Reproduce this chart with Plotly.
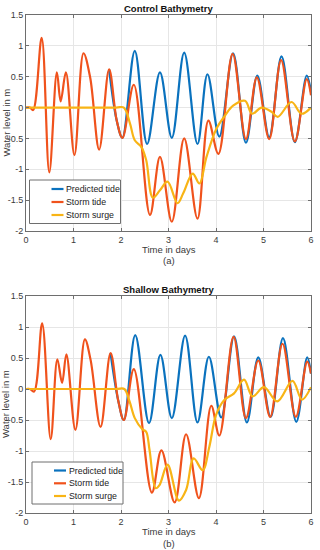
import plotly.graph_objects as go

# ---------------- data ----------------
series_names = ["Predicted tide", "Storm tide", "Storm surge"]

# (a) Control Bathymetry
ctrl_tide_x = [1.75, 1.91, 2.03, 2.29, 2.55, 2.82, 3.07, 3.33, 3.61, 3.82, 4.07, 4.36, 4.63, 4.87, 5.12, 5.38, 5.66, 5.91, 6.0]
ctrl_tide_y = [0.62, -0.21, -0.49, 0.92, -0.59, 0.57, -0.49, 0.89, -0.59, 0.54, -0.47, 0.88, -0.57, 0.52, -0.48, 0.83, -0.56, 0.52, 0.25]

ctrl_storm_x = [0, 0.08, 0.15, 0.33, 0.49, 0.65, 0.73, 0.84, 1.02, 1.21, 1.35, 1.54, 1.75, 1.91, 2.03, 2.27, 2.61, 2.82, 3.07,
                3.33, 3.61, 3.84, 4.05, 4.35, 4.63, 4.86, 5.12, 5.37, 5.66, 5.91, 6.0]
ctrl_storm_y = [0, 0, -0.04, 1.13, -1.05, 0.57, 0.10, 0.57, -0.77, 0.88, 0.49, -0.68, 0.62, -0.21, -0.49, 0.37, -1.74, -0.80, -1.85,
                -0.50, -1.80, -0.21, -0.75, 0.87, -0.51, 0.49, -0.51, 0.77, -0.55, 0.46, 0.20]

ctrl_surge_x = [0, 1.9, 2.06, 2.19, 2.29, 2.43, 2.53, 2.67, 2.82, 2.98, 3.19, 3.31, 3.51, 3.65, 3.80, 4.01, 4.19, 4.36, 4.61,
                4.76, 4.96, 5.17, 5.30, 5.59, 5.80, 6.0]
ctrl_surge_y = [0, 0, 0, -0.26, -0.53, -0.64, -0.85, -1.46, -1.34, -1.20, -1.55, -1.39, -1.07, -1.23, -0.80, -0.34, -0.13, 0.03, 0.11,
                -0.10, 0.0, -0.07, -0.15, 0.09, -0.10, 0.0]

# (b) Shallow Bathymetry
shal_tide_x = [1.78, 1.94, 2.06, 2.30, 2.59, 2.83, 3.07, 3.35, 3.61, 3.85, 4.11, 4.38, 4.65, 4.89, 5.15, 5.41, 5.69, 5.92, 6.0]
shal_tide_y = [0.58, -0.18, -0.50, 0.87, -0.55, 0.55, -0.47, 0.86, -0.54, 0.52, -0.46, 0.85, -0.54, 0.51, -0.45, 0.82, -0.53, 0.51, 0.25]

shal_storm_x = [0, 0.08, 0.17, 0.34, 0.52, 0.66, 0.76, 0.85, 1.04, 1.24, 1.36, 1.57, 1.78, 1.94, 2.06, 2.27, 2.65, 2.85, 3.13,
                3.37, 3.64, 3.90, 4.07, 4.37, 4.63, 4.89, 5.14, 5.40, 5.68, 5.92, 6.0]
shal_storm_y = [0, 0, -0.04, 1.06, -0.81, 0.48, 0.10, 0.56, -0.66, 0.80, 0.47, -0.61, 0.58, -0.18, -0.50, 0.32, -1.67, -0.99, -1.83,
                -0.73, -1.76, -0.27, -0.75, 0.84, -0.47, 0.46, -0.45, 0.73, -0.45, 0.44, 0.25]

shal_surge_x = [0, 1.9, 2.07, 2.18, 2.29, 2.45, 2.53, 2.60, 2.73, 2.81, 2.98, 3.22, 3.37, 3.53, 3.72, 3.86, 4.00, 4.17, 4.38,
                4.59, 4.77, 5.01, 5.29, 5.61, 5.81, 6.0]
shal_surge_y = [0, 0, 0, -0.20, -0.47, -0.65, -0.69, -0.98, -1.60, -1.55, -1.22, -1.80, -1.63, -1.12, -1.31, -0.93, -0.42, -0.18, -0.07,
                0.15, -0.12, 0.03, -0.20, 0.13, -0.17, 0.03]

x_tick_vals = [0, 1, 2, 3, 4, 5, 6]
x_tick_text = ["0", "1", "2", "3", "4", "5", "6"]
y_tick_vals = [-2, -1.5, -1, -0.5, 0, 0.5, 1, 1.5]
y_tick_text = ["-2", "-1.5", "-1", "-0.5", "0", "0.5", "1", "1.5"]

titles = ["Control Bathymetry", "Shallow Bathymetry"]
x_label = "Time in days"
y_label = "Water level in m"
panel_labels = ["(a)", "(b)"]

# ---------------- style ----------------
colors = ["#0A72BE", "#F0521C", "#F8B415"]
FONT = "Arial, 'Liberation Sans', Helvetica, sans-serif"
W, H = 320, 550
ML, MR, MT, MB = 26, 9, 15, 37
PH = H - MT - MB  # plot height in px
PW = W - ML - MR
AXC = "#6E6E6E"


def py2paper(py):
    return (H - MB - py) / PH


def px2paper(px):
    return (px - ML) / PW


fig = go.Figure()

panels = [
    (ctrl_tide_x, ctrl_tide_y, ctrl_storm_x, ctrl_storm_y, ctrl_surge_x, ctrl_surge_y, "x", "y"),
    (shal_tide_x, shal_tide_y, shal_storm_x, shal_storm_y, shal_surge_x, shal_surge_y, "x2", "y2"),
]
for (tx, ty, sx, sy, ux, uy, xa, ya) in panels:
    for name, xs, ys, col in zip(series_names, [tx, sx, ux], [ty, sy, uy], colors):
        fig.add_trace(go.Scatter(
            x=xs, y=ys, mode="lines", name=name, xaxis=xa, yaxis=ya, showlegend=False,
            line=dict(color=col, width=2.2, shape="spline", smoothing=1.0),
            hoverinfo="skip",
        ))

axis_common = dict(
    showgrid=True, gridcolor="#E6E6E6", gridwidth=1,
    showline=True, linecolor=AXC, linewidth=1, mirror="ticks",
    ticks="inside", ticklen=3, tickcolor=AXC,
    tickfont=dict(family=FONT, size=9, color="#3A3A3A"),
    zeroline=False, automargin=False,
)

top_dom = [py2paper(231), py2paper(15)]
bot_dom = [py2paper(513), py2paper(296)]

xa = dict(axis_common, range=[0, 6], tickvals=x_tick_vals, ticktext=x_tick_text)
ya = dict(axis_common, range=[-2, 1.5], tickvals=y_tick_vals, ticktext=y_tick_text)

fig.update_layout(
    width=W, height=H,
    margin=dict(l=ML, r=MR, t=MT, b=MB, pad=0, autoexpand=False),
    paper_bgcolor="white", plot_bgcolor="white",
    xaxis=dict(xa, domain=[0, 1], anchor="y"),
    yaxis=dict(ya, domain=top_dom, anchor="x"),
    xaxis2=dict(xa, domain=[0, 1], anchor="y2"),
    yaxis2=dict(ya, domain=bot_dom, anchor="x2"),
    showlegend=False,
)

ann = []
shapes = []
TXT = dict(family=FONT, size=9.5, color="#3A3A3A")
# titles
for t, cy in [(titles[0], 8), (titles[1], 289)]:
    ann.append(dict(text="<b>" + t + "</b>", x=0.5, y=py2paper(cy), xref="paper", yref="paper",
                    showarrow=False, font=dict(family=FONT, size=9.5, color="#111"),
                    xanchor="center", yanchor="middle"))
# x labels and panel labels
for ylab_px, ypanel_px, plab in [(249.5, 260.5, panel_labels[0]), (531.5, 543.5, panel_labels[1])]:
    ann.append(dict(text=x_label, x=0.5, y=py2paper(ylab_px), xref="paper", yref="paper",
                    showarrow=False, font=TXT, xanchor="center", yanchor="middle"))
    ann.append(dict(text=plab, x=0.5, y=py2paper(ypanel_px), xref="paper", yref="paper",
                    showarrow=False, font=TXT, xanchor="center", yanchor="middle"))
# y labels
for cy in [(15 + 231) / 2, (296 + 513) / 2]:
    ann.append(dict(text=y_label, x=px2paper(5.5), y=py2paper(cy), xref="paper", yref="paper",
                    showarrow=False, textangle=-90, font=TXT, xanchor="center", yanchor="middle"))

# legends (box, line samples, labels) for each panel
for (bx, btop, bbot, rows) in [(29.5, 180, 223.5, [189, 202, 215]),
                               (32, 462, 504, [470.5, 483.3, 496])]:
    shapes.append(dict(type="rect", xref="paper", yref="paper",
                       x0=px2paper(bx), x1=px2paper(bx + 91), y0=py2paper(bbot), y1=py2paper(btop),
                       fillcolor="white", line=dict(color=AXC, width=1), layer="above"))
    for name, col, ry in zip(series_names, colors, rows):
        shapes.append(dict(type="line", xref="paper", yref="paper",
                           x0=px2paper(bx + 22), x1=px2paper(bx + 34), y0=py2paper(ry), y1=py2paper(ry),
                           line=dict(color=col, width=2.2), layer="above"))
        ann.append(dict(text=name, x=px2paper(bx + 34.5), y=py2paper(ry), xref="paper", yref="paper",
                        showarrow=False, font=dict(family=FONT, size=8.8, color="#222"),
                        xanchor="left", yanchor="middle"))

fig.update_layout(annotations=ann, shapes=shapes)

fig.write_html("out.html", config={"displayModeBar": False},
               post_script="document.body.style.margin='0';")
